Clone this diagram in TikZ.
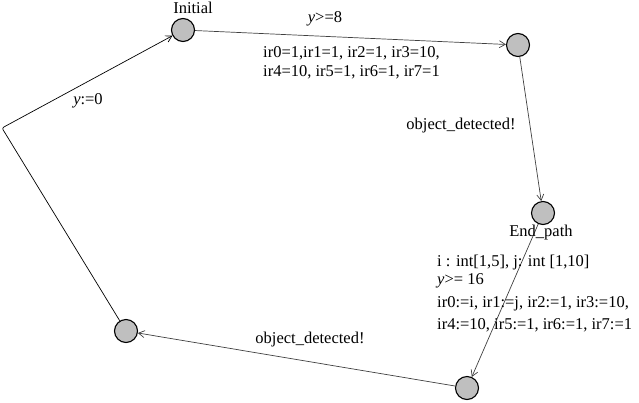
\documentclass[tikz,border=0pt]{standalone}
\usepackage{fontspec}
\setmainfont{Liberation Serif}
\usetikzlibrary{arrows.meta}
\begin{document}
\begin{tikzpicture}[x=1pt,y=-1pt,
  loc/.style={circle,draw=black,line width=1.1pt,fill=black!25,minimum size=23pt,inner sep=0pt},
  lbl/.style={font=\fontsize{16.5}{18}\selectfont,inner sep=0pt},
  edge/.style={draw=black!75,line width=0.7pt,-{Straight Barb[length=6pt,width=7pt]}}]
\useasboundingbox (0,0) rectangle (639,402);
\node[loc] (init) at (183,30) {};
\node[loc] (b) at (518,45) {};
\node[loc] (end) at (543,213) {};
\node[loc] (d) at (467,388) {};
\node[loc] (e) at (126,331) {};
\coordinate (corner) at (2,128);

\draw[edge] (init) -- (b);
\draw[edge] (b) -- (end);
\draw[edge] (end) -- (d);
\draw[edge] (d) -- (e);
\draw[edge,draw=black,rounded corners=2pt] (e) -- (corner) -- (init);

\node[lbl] (tinit) at (193,8) {Initial};
\node[lbl] (g1) at (325,19) {\textit{y}>=8};
\node[lbl,anchor=west] (u1a) at (263,53) {ir0=1,ir1=1, ir2=1, ir3=10,};
\node[lbl,anchor=west] (u1b) at (263,72) {ir4=10, ir5=1, ir6=1, ir7=1};
\node[lbl] (s1) at (461,126) {object\_detected!};
\node[lbl] (tend) at (541,233) {End\_path};
\node[lbl,anchor=west] (sel) at (437,263) {i : int[1,5], j: int [1,10]};
\node[lbl,anchor=west] (g2) at (437,281) {\textit{y}>= 16};
\node[lbl,anchor=west] (u2a) at (437,304) {ir0:=i, ir1:=j, ir2:=1, ir3:=10,};
\node[lbl,anchor=west] (u2b) at (437,325) {ir4:=10, ir5:=1, ir6:=1, ir7:=1};
\node[lbl] (s2) at (310,340) {object\_detected!};
\node[lbl] (r) at (88,101) {\textit{y}:=0};
\end{tikzpicture}
\end{document}
